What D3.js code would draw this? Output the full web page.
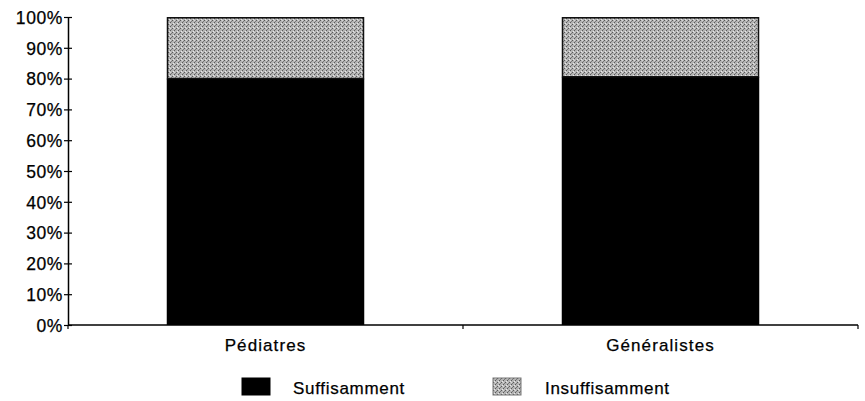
<!DOCTYPE html>
<html lang="fr">
<head>
<meta charset="UTF-8">
<title>Suffisamment / Insuffisamment</title>
<script src="https://d3js.org/d3.v7.min.js"></script>
<style>
  body { margin: 0; background: #fff; }
  svg text { font-family: "Liberation Sans", Arial, sans-serif; fill: #000; stroke: #000; stroke-width: 0.25px; }
</style>
</head>
<body>
<svg width="865" height="401"></svg>
<script>
// Données
const categories = ["Pédiatres", "Généralistes"];
const seriesNames = ["Suffisamment", "Insuffisamment"];
const suffisamment = [80, 80.6];
const insuffisamment = [20, 19.4];
const yTicks = [0, 10, 20, 30, 40, 50, 60, 70, 80, 90, 100];

const svg = d3.select("svg");
const x0 = 68, x1 = 858, yTop = 17, yBottom = 325;

const x = d3.scaleBand().domain(categories).range([x0, x1]).paddingInner(0.5).paddingOuter(0.25);
const y = d3.scaleLinear().domain([0, 100]).range([yBottom, yTop]);

// motif gris tramé
const defs = svg.append("defs");
const pat = defs.append("pattern")
  .attr("id", "trame").attr("width", 4).attr("height", 4)
  .attr("patternUnits", "userSpaceOnUse");
pat.append("rect").attr("width", 4).attr("height", 4).attr("fill", "#b4b4b4");
pat.append("rect").attr("x", 0).attr("y", 0).attr("width", 1).attr("height", 1).attr("fill", "#5a5a5a");
pat.append("rect").attr("x", 2).attr("y", 2).attr("width", 1).attr("height", 1).attr("fill", "#5a5a5a");
pat.append("rect").attr("x", 1).attr("y", 3).attr("width", 1).attr("height", 1).attr("fill", "#e8e8e8");
pat.append("rect").attr("x", 3).attr("y", 1).attr("width", 1).attr("height", 1).attr("fill", "#7a7a7a");
pat.append("rect").attr("x", 2).attr("y", 0).attr("width", 1).attr("height", 1).attr("fill", "#d8d8d8");

const data = categories.map((c, i) => ({ cat: c, s: suffisamment[i], ins: insuffisamment[i] }));

// barres
const g = svg.append("g");
g.selectAll(".suf").data(data).enter().append("rect")
  .attr("x", d => x(d.cat)).attr("width", x.bandwidth())
  .attr("y", d => y(d.s)).attr("height", d => y(0) - y(d.s))
  .attr("fill", "#000");
g.selectAll(".ins").data(data).enter().append("rect")
  .attr("x", d => x(d.cat) + 0.75).attr("width", x.bandwidth() - 1.5)
  .attr("y", d => y(d.s + d.ins) + 0.75).attr("height", d => y(d.s) - y(d.s + d.ins) - 0.75)
  .attr("fill", "url(#trame)").attr("stroke", "#111").attr("stroke-width", 1.5);

// axe Y
const yAxis = svg.append("g").attr("transform", `translate(${x0},0)`)
  .call(d3.axisLeft(y).tickValues(yTicks).tickFormat(d => d + "%").tickSizeInner(4).tickSizeOuter(0));
yAxis.select(".domain").attr("stroke", "#000").attr("stroke-width", 1.5);
yAxis.selectAll(".tick line").attr("x1", -4).attr("x2", 4).attr("stroke-width", 1.2);
yAxis.selectAll(".tick text").attr("x", -5).attr("dy", "0.36em")
  .style("font-size", "17.5px").style("letter-spacing", "0.6px");

// axe X
svg.append("line").attr("x1", x0).attr("x2", x1).attr("y1", yBottom).attr("y2", yBottom)
  .attr("stroke", "#000").attr("stroke-width", 1.5);
const xTickPos = [x0, (x0 + x1) / 2, x1];
svg.selectAll(".xt").data(xTickPos).enter().append("line")
  .attr("x1", d => d).attr("x2", d => d).attr("y1", yBottom).attr("y2", yBottom + 4)
  .attr("stroke", "#000").attr("stroke-width", 1.2);
svg.selectAll(".cat").data(categories).enter().append("text")
  .attr("x", d => x(d) + x.bandwidth() / 2).attr("y", 351)
  .attr("text-anchor", "middle").style("font-size", "17px").style("letter-spacing", "1.1px")
  .text(d => d);

// légende
const legX = [242, 493];
const leg = svg.selectAll(".leg").data(seriesNames).enter().append("g")
  .attr("transform", (d, i) => `translate(${legX[i]},378)`);
leg.append("rect").attr("width", 28).attr("height", 17)
  .attr("fill", (d, i) => i === 0 ? "#000" : "url(#trame)")
  .attr("stroke", (d, i) => i === 0 ? "#000" : "#777").attr("stroke-width", 1);
leg.append("text").attr("x", (d, i) => i === 0 ? 51 : 52).attr("y", 16)
  .style("font-size", "17px").style("letter-spacing", "0.7px").text(d => d);
</script>
</body>
</html>
